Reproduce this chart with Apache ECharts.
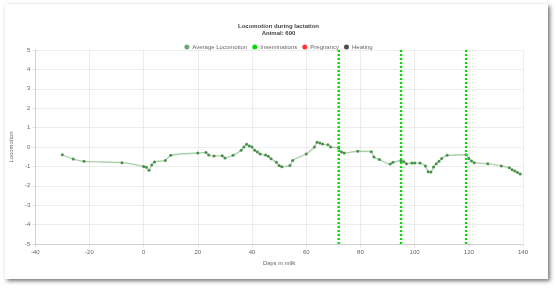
<!DOCTYPE html>
<html>
<head>
<meta charset="utf-8">
<script src="https://cdn.jsdelivr.net/npm/echarts@6/dist/echarts.min.js"></script>
<style>
html,body{margin:0;padding:0;background:#fff;}
#frame{position:absolute;left:5px;top:4px;width:543px;height:275px;background:#fff;box-shadow:2px 2px 4px rgba(0,0,0,0.55);}
#chart{position:absolute;left:0;top:0;width:557px;height:289px;}
</style>
</head>
<body>
<div id="frame"></div>
<div id="chart"></div>
<script>
const days = [-30,-26,-22,-8,0,1,2,3,4,8,10,20,23,24,26,29,30,33,36,37,38,39,40,41,42,43,45,46,47,49,50,51,54,55,60,63,64,65,66,68,69,72,73,74,79,84,85,87,91,92,95,96,97,99,100,102,104,105,106,107,108,109,110,112,119,120,121,122,127,132,135,136,137,138,139];
const locomotion = [-0.40,-0.62,-0.74,-0.81,-1.00,-1.05,-1.20,-0.93,-0.77,-0.69,-0.43,-0.31,-0.28,-0.41,-0.46,-0.45,-0.57,-0.43,-0.17,0.00,0.14,0.05,0.00,-0.17,-0.26,-0.36,-0.41,-0.48,-0.60,-0.79,-0.96,-1.02,-0.95,-0.69,-0.36,0.00,0.24,0.21,0.15,0.12,0.00,-0.05,-0.26,-0.31,-0.22,-0.24,-0.52,-0.65,-0.88,-0.79,-0.71,-0.76,-0.86,-0.83,-0.83,-0.83,-0.98,-1.27,-1.29,-1.03,-0.86,-0.74,-0.59,-0.43,-0.40,-0.59,-0.72,-0.81,-0.86,-0.98,-1.07,-1.17,-1.24,-1.31,-1.39];
const inseminationDays = [72,95,119];
const yRange = [-5,5];
const xTicks = {min:-40,max:140,interval:20};

const chart = echarts.init(document.getElementById('chart'), null, {renderer:'canvas'});
const font = 'Helvetica, Arial, "Liberation Sans", sans-serif';
const series = [{
  name:'Average Locomotion', type:'line', smooth:0.3,
  data: days.map((d,i)=>[d,locomotion[i]]),
  symbol:'circle', symbolSize:3, showSymbol:true,
  itemStyle:{color:'#4a914a'},
  lineStyle:{color:'rgba(90,160,90,0.5)', width:1.3},
  z:3
}];
inseminationDays.forEach((d,i)=>{
  series.push({
    name:'Inseminations', type:'line',
    data:[[d,yRange[0]],[d,yRange[1]]],
    symbol:'none', itemStyle:{color:'#00dd00'},
    lineStyle:{color:'#00dd00', width:2.4, type:[2,2]},
    z:4
  });
});
series.push({name:'Pregnancy', type:'scatter', data:[], itemStyle:{color:'#ff0000'}});
series.push({name:'Heating', type:'scatter', data:[], itemStyle:{color:'#222222'}});

chart.setOption({
  animation:false,
  backgroundColor:'transparent',
  textStyle:{fontFamily:font},
  title:{
    text:'Locomotion during lactation\nAnimal: 690',
    left:'center', top:18,
    textStyle:{fontSize:6, fontWeight:'bold', color:'#444', lineHeight:7, fontFamily:font}
  },
  legend:{
    top:39, left:'center',
    itemWidth:5, itemHeight:5, itemGap:5,
    icon:'circle',
    data:[
      {name:'Average Locomotion', itemStyle:{color:'#6fa86f'}},
      {name:'Inseminations', itemStyle:{color:'#00dd00'}},
      {name:'Pregnancy', itemStyle:{color:'#ff0000'}},
      {name:'Heating', itemStyle:{color:'#222222'}}
    ],
    textStyle:{fontSize:6, color:'#666', padding:[0,0,0,-2], fontFamily:font}
  },
  grid:{left:33, right:34, top:50, bottom:45},
  xAxis:{
    type:'value', min:xTicks.min, max:xTicks.max, interval:xTicks.interval,
    name:'Days in milk', nameLocation:'middle', nameGap:15,
    nameTextStyle:{fontSize:6, color:'#666'},
    axisLine:{show:true, onZero:false, lineStyle:{color:'rgba(0,0,0,0.12)'}},
    axisTick:{show:true, length:3, lineStyle:{color:'rgba(0,0,0,0.1)'}},
    axisLabel:{fontSize:6, color:'#666', margin:5},
    splitLine:{show:true, lineStyle:{color:'rgba(0,0,0,0.07)'}}
  },
  yAxis:{
    type:'value', min:yRange[0], max:yRange[1], interval:1,
    name:'Locomotion', nameLocation:'middle', nameGap:11, nameRotate:90,
    nameTextStyle:{fontSize:6, color:'#666'},
    axisLine:{show:true, onZero:false, lineStyle:{color:'rgba(0,0,0,0.12)'}},
    axisTick:{show:true, length:3, lineStyle:{color:'rgba(0,0,0,0.1)'}},
    axisLabel:{fontSize:6, color:'#666', margin:5},
    splitLine:{show:true, lineStyle:{color:'rgba(0,0,0,0.07)'}}
  },
  series: series
});
</script>
</body>
</html>
